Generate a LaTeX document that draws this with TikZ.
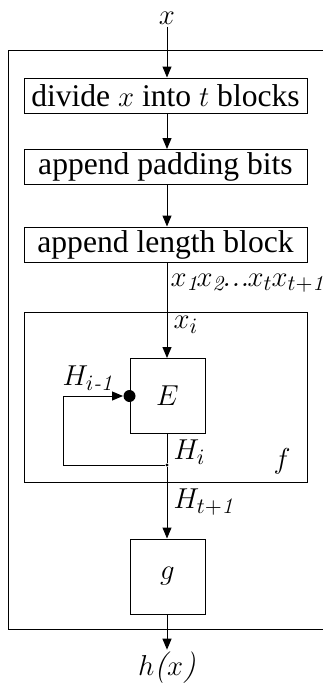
\documentclass[tikz,border=0pt]{standalone}
\usepackage{amsmath}
\usepackage[no-math]{fontspec}
\setmainfont{Liberation Serif}
\usetikzlibrary{arrows.meta}
\newcommand\cmit[1]{{\fontfamily{lmr}\fontshape{it}\selectfont #1}}
\begin{document}
\fontsize{15.8}{19}\selectfont
\begin{tikzpicture}[
  x=0.5pt, y=-0.5pt,
  line width=0.5pt,
  wide/.style={rectangle, draw, minimum width=141.5pt, minimum height=17.5pt, inner sep=0pt},
  sq/.style={rectangle, draw, minimum size=37.5pt, inner sep=0pt},
  lbl/.style={inner sep=1pt},
  flow/.style={-{Triangle[length=5.5pt, width=4.5pt]}}
]
  \useasboundingbox (0,0) rectangle (322,685);
  % outer box, cut at the right edge
  \draw (8,50) -- (340,50) (8,50) -- (8,629) -- (340,629);

  \node[lbl] (in) at (167,18) {$x$};
  \node[wide] (divide) at (165.5,95.5) {divide $x$ into $t$ blocks};
  \node[wide] (pad) at (165.5,167) {append padding bits};
  \node[wide] (len) at (165.5,244.5) {append length block};
  \node[rectangle, draw, minimum width=141.5pt, minimum height=85pt, inner sep=0pt] (f) at (165.5,397) {};
  \node[sq] (E) at (167.5,396) {$E$};
  \node[sq] (g) at (167.5,576.5) {$g$};
  \node[lbl] (out) at (167,668) {$h\text{\cmit{(}}x\text{\cmit{)}}$};

  \node[circle, fill, minimum size=6pt, inner sep=0pt] (dot) at (E.west) {};
  \node[circle, fill, minimum size=1.6pt, inner sep=0pt] (junc) at (167,465) {};
  \coordinate (back) at (63,465);
  \coordinate (up) at (63,396);

  \node[lbl, anchor=west, inner sep=0pt, font=\fontsize{15.2}{18}\selectfont] (xs) at (170,283)
    {\scriptspace=0pt$x_{\text{\cmit{1}}}\mkern-0.5mu x_{\text{\cmit{2}}}\mkern-1mu\text{\cmit{...}}\mkern-1mu x_t x_{t+\text{\cmit{1}}}$};
  \node[lbl, anchor=west] (xi) at (171,325) {$x_i$};
  \node[lbl, anchor=south west] (Hprev) at (60,393) {$H_{i\text{\cmit{-1}}}$};
  \node[lbl, anchor=west] (Hi) at (171,452) {$H_i$};
  \node[lbl] (flab) at (282,461) {$f$};
  \node[lbl, anchor=west] (Hlast) at (171,502) {$H_{t+\text{\cmit{1}}}$};

  \draw[flow] (in) -- (in |- divide.north);
  \draw[flow] (divide.south -| in) -- (in |- pad.north);
  \draw[flow] (pad.south -| in) -- (in |- len.north);
  \draw[flow] (len.south -| in) -- (in |- E.north);
  \draw (E.south -| in) -- (junc);
  \draw[flow] (junc) -- (in |- g.north);
  \draw (junc) -- (back) -- (up);
  \draw[flow] (up) -- (dot);
  \draw[flow] (g.south -| in) -- (out);
\end{tikzpicture}
\end{document}
